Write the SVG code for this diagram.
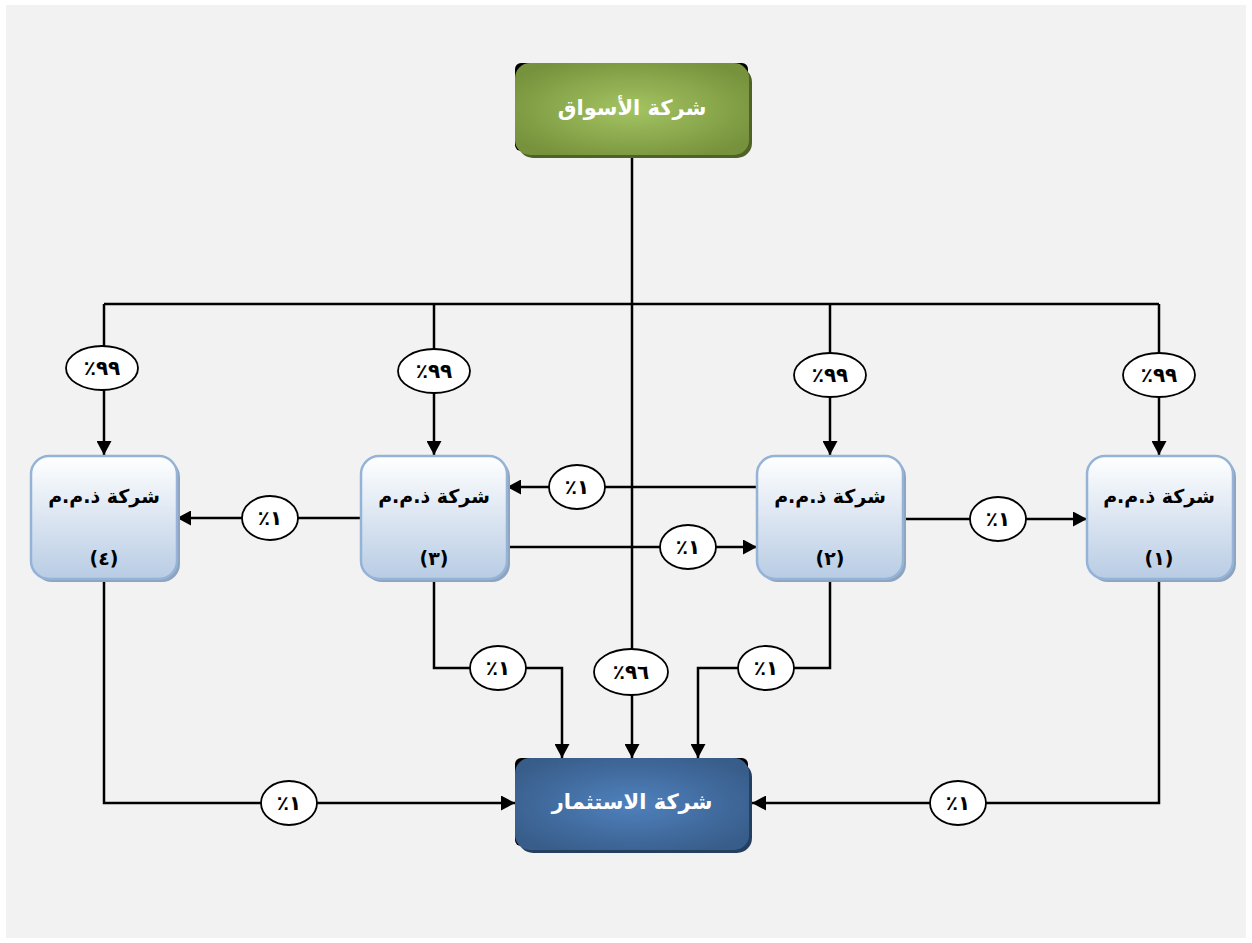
<svg xmlns="http://www.w3.org/2000/svg" width="1252" height="943" viewBox="0 0 1252 943">
<defs>
<radialGradient id="gGreen" cx="50%" cy="50%" r="60%">
<stop offset="0" stop-color="#a4c462"/>
<stop offset="1" stop-color="#76923c"/>
</radialGradient>
<radialGradient id="gBlue" cx="50%" cy="50%" r="60%">
<stop offset="0" stop-color="#4f81bd"/>
<stop offset="1" stop-color="#385d8a"/>
</radialGradient>
<linearGradient id="gLight" x1="0" y1="0" x2="0" y2="1">
<stop offset="0" stop-color="#ffffff"/>
<stop offset="1" stop-color="#b8cce4"/>
</linearGradient>
<marker id="arr" markerUnits="userSpaceOnUse" markerWidth="14" markerHeight="15" refX="14" refY="7.5" orient="auto">
<path d="M0,0 L14,7.5 L0,15 z" fill="#000"/>
</marker>
<style>
.ln{fill:none;stroke:#000;stroke-width:2.5}
.lab{fill:#fff;stroke:#000;stroke-width:1.8}
.lt{font-family:"DejaVu Serif","DejaVu Sans",serif;font-size:20px;font-weight:bold;fill:#000;text-anchor:middle;dominant-baseline:central}
.sb{fill:url(#gLight);stroke:#95b3d7;stroke-width:2.5}
.sh{fill:#8ea3bd}
.st{font-family:"DejaVu Sans",sans-serif;font-size:19px;font-weight:bold;fill:#000;text-anchor:middle;dominant-baseline:central}
.bt{font-family:"DejaVu Sans",sans-serif;font-size:21px;font-weight:bold;fill:#fff;text-anchor:middle;dominant-baseline:central}
</style>
</defs>
<rect x="0" y="0" width="1252" height="943" fill="#fff"/>
<rect x="6" y="5" width="1240" height="933" fill="#f2f2f2"/>

<g id="connectors">
<path class="ln" d="M632,155 V758" marker-end="url(#arr)"/>
<path class="ln" d="M104,304 H1159"/>
<path class="ln" d="M104,304 V455" marker-end="url(#arr)"/>
<path class="ln" d="M434,304 V455" marker-end="url(#arr)"/>
<path class="ln" d="M830,304 V455" marker-end="url(#arr)"/>
<path class="ln" d="M1159,304 V455" marker-end="url(#arr)"/>
<path class="ln" d="M361,518 H177" marker-end="url(#arr)"/>
<path class="ln" d="M757,487 H507" marker-end="url(#arr)"/>
<path class="ln" d="M507,547 H757" marker-end="url(#arr)"/>
<path class="ln" d="M903,519 H1087" marker-end="url(#arr)"/>
<path class="ln" d="M434,580 V668 H562 V758" marker-end="url(#arr)"/>
<path class="ln" d="M830,580 V668 H698 V758" marker-end="url(#arr)"/>
<path class="ln" d="M104,580 V803 H515" marker-end="url(#arr)"/>
<path class="ln" d="M1159,580 V803 H752" marker-end="url(#arr)"/>

<g id="labels">
<ellipse class="lab" cx="102" cy="368" rx="36" ry="22"/><text class="lt" x="102" y="368" direction="ltr" unicode-bidi="bidi-override">٪٩٩</text>
<ellipse class="lab" cx="434" cy="371" rx="36" ry="22"/><text class="lt" x="434" y="371" direction="ltr" unicode-bidi="bidi-override">٪٩٩</text>
<ellipse class="lab" cx="830" cy="375" rx="36" ry="22"/><text class="lt" x="830" y="375" direction="ltr" unicode-bidi="bidi-override">٪٩٩</text>
<ellipse class="lab" cx="1159" cy="375" rx="36" ry="22"/><text class="lt" x="1159" y="375" direction="ltr" unicode-bidi="bidi-override">٪٩٩</text>
<ellipse class="lab" cx="270" cy="518" rx="28" ry="22"/><text class="lt" x="270" y="518" direction="ltr" unicode-bidi="bidi-override">٪١</text>
<ellipse class="lab" cx="577" cy="487" rx="28" ry="22"/><text class="lt" x="577" y="487" direction="ltr" unicode-bidi="bidi-override">٪١</text>
<ellipse class="lab" cx="688" cy="547" rx="28" ry="22"/><text class="lt" x="688" y="547" direction="ltr" unicode-bidi="bidi-override">٪١</text>
<ellipse class="lab" cx="998" cy="519" rx="28" ry="22"/><text class="lt" x="998" y="519" direction="ltr" unicode-bidi="bidi-override">٪١</text>
<ellipse class="lab" cx="498" cy="668" rx="28" ry="22"/><text class="lt" x="498" y="668" direction="ltr" unicode-bidi="bidi-override">٪١</text>
<ellipse class="lab" cx="766" cy="668" rx="28" ry="22"/><text class="lt" x="766" y="668" direction="ltr" unicode-bidi="bidi-override">٪١</text>
<ellipse class="lab" cx="631" cy="672" rx="37" ry="23"/><text class="lt" x="631" y="672" direction="ltr" unicode-bidi="bidi-override">٪٩٦</text>
<ellipse class="lab" cx="289" cy="803" rx="28" ry="22"/><text class="lt" x="289" y="803" direction="ltr" unicode-bidi="bidi-override">٪١</text>
<ellipse class="lab" cx="958" cy="803" rx="28" ry="22"/><text class="lt" x="958" y="803" direction="ltr" unicode-bidi="bidi-override">٪١</text>
</g>
</g>

<g id="node-markets">
<rect x="515" y="63" width="233" height="88" rx="6" fill="#000"/>
<rect x="518" y="67" width="234" height="91" rx="15" fill="#4f6228"/>
<rect x="515" y="63" width="234" height="92" rx="15" fill="url(#gGreen)"/>
<text class="bt" x="632" y="108">شركة الأسواق</text>
</g>

<g id="node-investment">
<rect x="515" y="758" width="233" height="88" rx="6" fill="#000"/>
<rect x="518" y="762" width="234" height="91" rx="15" fill="#243f60"/>
<rect x="515" y="758" width="234" height="92" rx="15" fill="url(#gBlue)"/>
<text class="bt" x="632" y="802">شركة الاستثمار</text>
</g>

<g id="node-4">
<rect class="sh" x="34" y="459" width="146" height="123" rx="18"/>
<rect class="sb" x="31" y="456" width="146" height="123" rx="18"/>
<text class="st" x="104" y="496">شركة ذ.م.م</text>
<text class="st" x="104" y="558">(٤)</text>
</g>
<g id="node-3">
<rect class="sh" x="364" y="459" width="146" height="123" rx="18"/>
<rect class="sb" x="361" y="456" width="146" height="123" rx="18"/>
<text class="st" x="434" y="496">شركة ذ.م.م</text>
<text class="st" x="434" y="558">(٣)</text>
</g>
<g id="node-2">
<rect class="sh" x="760" y="459" width="146" height="123" rx="18"/>
<rect class="sb" x="757" y="456" width="146" height="123" rx="18"/>
<text class="st" x="830" y="496">شركة ذ.م.م</text>
<text class="st" x="830" y="558">(٢)</text>
</g>
<g id="node-1">
<rect class="sh" x="1090" y="459" width="146" height="123" rx="18"/>
<rect class="sb" x="1087" y="456" width="146" height="123" rx="18"/>
<text class="st" x="1159" y="496">شركة ذ.م.م</text>
<text class="st" x="1159" y="558">(١)</text>
</g>
</svg>
